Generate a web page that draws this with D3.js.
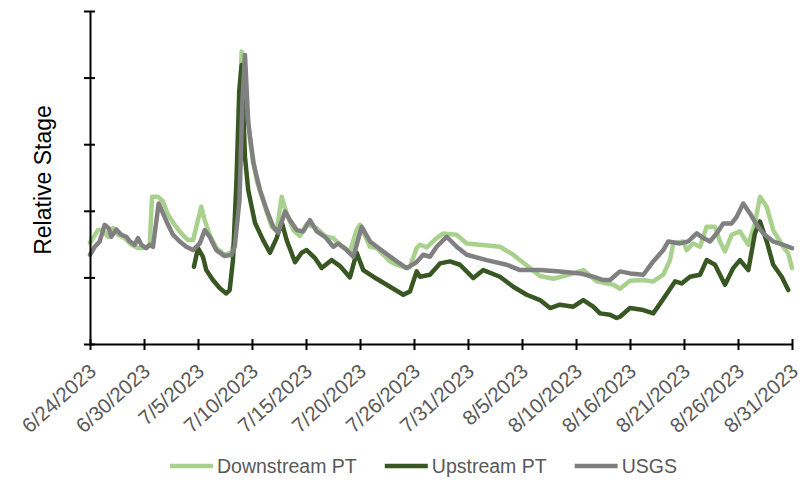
<!DOCTYPE html>
<html>
<head>
<meta charset="utf-8">
<script src="https://cdn.jsdelivr.net/npm/d3@7"></script>
<style>
  body { margin: 0; background: #fff; }
  text { font-family: "Liberation Sans", Arial, sans-serif; }
</style>
</head>
<body>
<div class="chart"></div>
<script>
// days are counted from 6/24/2023 00:00, values are relative stage
const startDate = new Date(2023, 5, 24);
const dayRange = [0.8, 68.8];

const tickLabels = ["6/24/2023", "6/30/2023", "7/5/2023", "7/10/2023", "7/15/2023", "7/20/2023",
  "7/26/2023", "7/31/2023", "8/5/2023", "8/10/2023", "8/16/2023", "8/21/2023", "8/26/2023", "8/31/2023"];

const seriesNames = ["Downstream PT", "Upstream PT", "USGS"];
const seriesColors = ["#a9d18e", "#385723", "#808080"];

const downstream = [
  [0.8,1.52],[1.57,1.71],[2.06,1.71],[2.54,1.61],[3.03,1.74],[3.51,1.64],[4.16,1.59],[4.8,1.49],
  [5.45,1.44],[6.1,1.44],[6.58,1.49],[6.81,2.21],[7.39,2.21],[7.87,2.14],[8.36,1.94],[9.0,1.79],
  [9.64,1.66],[10.29,1.56],[10.78,1.56],[11.26,1.86],[11.58,2.06],[11.91,1.86],[12.39,1.64],
  [13.03,1.44],[13.85,1.34],[14.49,1.37],[14.8,1.56],[15.18,2.91],[15.49,4.39],[15.98,3.56],
  [16.3,3.06],[16.94,2.46],[17.75,2.06],[18.4,1.76],[18.88,1.69],[19.37,2.21],[19.85,1.96],
  [20.49,1.71],[21.14,1.62],[21.79,1.8],[22.76,1.74],[23.56,1.62],[24.37,1.59],[25.02,1.49],
  [25.98,1.39],[26.63,1.71],[26.95,1.79],[27.92,1.46],[28.57,1.44],[29.86,1.24],[30.51,1.19],
  [31.48,1.14],[31.8,1.16],[32.44,1.44],[32.76,1.49],[33.41,1.45],[34.38,1.59],[35.02,1.66],
  [36.32,1.64],[37.29,1.51],[38.58,1.49],[40.51,1.46],[41.8,1.34],[43.42,1.14],[44.39,1.02],
  [45.68,0.98],[46.97,1.03],[48.58,1.11],[49.88,0.94],[50.85,0.91],[51.49,0.89],[52.14,0.83],
  [53.11,0.95],[54.4,0.96],[55.36,0.94],[56.33,1.04],[56.98,1.26],[57.3,1.51],[58.27,1.54],
  [58.6,1.41],[59.24,1.51],[59.89,1.46],[60.53,1.76],[61.34,1.76],[61.82,1.54],[62.31,1.39],
  [62.96,1.64],[63.76,1.69],[64.57,1.49],[65.21,1.81],[65.7,2.21],[66.35,2.06],[66.98,1.71],
  [67.95,1.46],[68.44,1.36],[68.8,1.14]
];

const upstream = [
  [10.87,1.16],[11.26,1.44],[11.74,1.31],[12.06,1.11],[12.71,0.96],[13.36,0.84],[14.0,0.76],
  [14.33,0.81],[14.65,1.26],[14.99,2.46],[15.26,3.81],[15.49,4.19],[15.81,2.81],[16.13,2.31],
  [16.78,1.82],[17.57,1.56],[18.23,1.37],[18.88,1.59],[19.37,1.83],[19.85,1.56],[20.66,1.23],
  [21.3,1.37],[21.79,1.41],[22.59,1.29],[23.24,1.14],[24.21,1.26],[25.02,1.17],[25.98,1.0],
  [26.63,1.37],[27.27,1.11],[28.24,1.01],[29.86,0.86],[31.15,0.74],[31.8,0.79],[32.44,1.09],
  [32.76,1.01],[33.73,1.04],[34.7,1.21],[35.67,1.24],[36.64,1.19],[37.93,0.99],[38.9,1.11],
  [40.51,1.01],[41.8,0.86],[43.1,0.74],[44.39,0.66],[45.36,0.54],[46.32,0.59],[47.62,0.56],
  [48.58,0.66],[49.55,0.56],[50.2,0.46],[51.17,0.44],[51.81,0.39],[52.14,0.41],[53.11,0.54],
  [54.4,0.51],[55.36,0.46],[56.17,0.64],[56.82,0.79],[57.47,0.94],[58.11,0.91],[58.92,1.01],
  [59.89,1.04],[60.53,1.26],[61.34,1.19],[62.31,0.89],[63.11,1.14],[63.76,1.26],[64.57,1.11],
  [65.21,1.66],[65.7,1.84],[66.35,1.54],[66.98,1.19],[67.8,1.01],[68.44,0.81]
];

const usgs = [
  [0.8,1.34],[1.26,1.46],[1.74,1.54],[2.22,1.79],[2.61,1.74],[2.86,1.61],[3.35,1.72],[3.83,1.64],
  [4.32,1.61],[4.65,1.54],[5.13,1.49],[5.45,1.59],[5.77,1.49],[6.25,1.44],[6.58,1.49],[6.9,1.46],
  [7.45,2.11],[7.87,1.96],[8.36,1.79],[8.84,1.64],[9.49,1.54],[10.13,1.46],[10.78,1.41],
  [11.43,1.51],[11.91,1.71],[12.39,1.61],[13.03,1.41],[13.85,1.32],[14.49,1.34],[14.82,1.46],
  [15.28,2.16],[15.57,3.66],[15.81,4.34],[16.13,3.32],[16.62,2.72],[17.27,2.31],[17.92,2.01],
  [18.55,1.76],[19.04,1.67],[19.69,1.99],[20.17,1.86],[20.82,1.71],[21.46,1.69],[22.11,1.86],
  [22.76,1.69],[23.56,1.61],[24.37,1.46],[24.85,1.51],[25.66,1.41],[26.3,1.31],[27.12,1.76],
  [27.92,1.54],[29.21,1.39],[30.51,1.24],[31.48,1.14],[32.44,1.23],[33.08,1.34],[33.73,1.31],
  [34.38,1.46],[35.35,1.61],[36.32,1.46],[37.29,1.34],[39.22,1.26],[41.16,1.19],[42.45,1.11],
  [44.39,1.11],[46.32,1.09],[48.26,1.06],[49.55,1.01],[50.52,0.96],[51.17,0.96],[52.14,1.09],
  [53.11,1.06],[54.4,1.04],[55.36,1.24],[56.33,1.41],[56.82,1.54],[57.95,1.51],[58.75,1.54],
  [59.57,1.66],[60.21,1.59],[60.85,1.54],[61.5,1.66],[62.14,1.81],[62.95,1.81],[63.44,1.91],
  [64.08,2.11],[64.73,1.96],[65.38,1.79],[66.02,1.66],[66.98,1.54],[67.95,1.49],[68.8,1.44]
];

const allSeries = [downstream, upstream, usgs];

const width = 808, height = 491;
const svg = d3.select(".chart").append("svg")
  .attr("width", width)
  .attr("height", height);

const toDate = d => new Date(startDate.getTime() + d * 864e5);

const x = d3.scaleTime()
  .domain(dayRange.map(toDate))
  .range([90, 792]);

const y = d3.scaleLinear()
  .domain([0, 5])
  .range([344, 11]);

// 13 equal steps between first and last label, like the category style axis
const step = (dayRange[1] - dayRange[0]) / (tickLabels.length - 1);
const tickDates = tickLabels.map((t, i) => toDate(dayRange[0] + i * step));

const line = d3.line()
  .x(d => x(toDate(d[0])))
  .y(d => y(d[1]));

svg.selectAll(".series")
  .data(allSeries)
  .enter().append("path")
  .attr("class", "series")
  .attr("fill", "none")
  .attr("stroke", (d, i) => seriesColors[i])
  .attr("stroke-width", 4.5)
  .attr("stroke-linejoin", "round")
  .attr("stroke-linecap", "round")
  .attr("d", line);

// y axis, no labels, ticks crossing the line
const yAxis = svg.append("g")
  .attr("transform", "translate(90,0)")
  .call(d3.axisLeft(y).ticks(5).tickFormat("").tickSizeOuter(0));
yAxis.selectAll(".tick line").attr("x1", 5).attr("x2", -6);

const xAxis = svg.append("g")
  .attr("transform", "translate(0,344)")
  .call(d3.axisBottom(x).tickValues(tickDates).tickFormat((d, i) => tickLabels[i]).tickSizeOuter(0));
xAxis.selectAll(".tick line").attr("y1", -5).attr("y2", 6);

svg.selectAll(".domain, .tick line")
  .attr("stroke", "#000")
  .attr("stroke-width", 2);

xAxis.selectAll(".tick text")
  .attr("fill", "#595959")
  .attr("font-size", 20.5)
  .attr("font-family", "Liberation Sans, Arial, sans-serif")
  .attr("text-anchor", "end")
  .attr("dy", 0)
  .attr("y", 0)
  .attr("transform", "translate(7,29) rotate(-42)");

svg.append("text")
  .attr("transform", "translate(51,180) rotate(-90)")
  .attr("text-anchor", "middle")
  .attr("font-size", 23)
  .attr("fill", "#000")
  .text("Relative Stage");

// legend
const legend = svg.append("g").attr("transform", "translate(170,466)");
let lx = 0;
seriesNames.forEach((name, i) => {
  legend.append("line")
    .attr("x1", lx).attr("x2", lx + 43)
    .attr("y1", 0).attr("y2", 0)
    .attr("stroke", seriesColors[i])
    .attr("stroke-width", 4.5);
  const t = legend.append("text")
    .attr("x", lx + 47)
    .attr("y", 7)
    .attr("font-size", 19.5)
    .attr("fill", "#595959")
    .text(name);
  lx += 47 + t.node().getComputedTextLength() + 28;
});
</script>
</body>
</html>
